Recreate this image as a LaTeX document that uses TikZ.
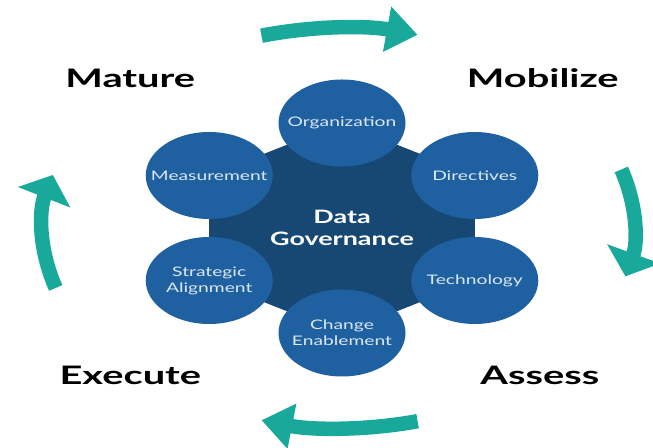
\documentclass[tikz,border=0pt]{standalone}
\usepackage{fontspec}
\setmainfont{Lato}
\usetikzlibrary{arrows.meta}
\definecolor{Navy}{HTML}{174873}
\definecolor{Blue}{HTML}{1E60A0}
\definecolor{Teal}{HTML}{19A99B}
\definecolor{Pale}{HTML}{DCE8F4}

\begin{document}
\begin{tikzpicture}[
  petal/.style={circle,fill=Blue,minimum size=1.74cm,inner sep=0pt,align=center,text=Pale,font=\fontsize{7.5}{9}\selectfont},
  stage/.style={xscale=1.07,font=\bfseries\fontsize{14.5}{17}\selectfont},
  sweep/.style={draw=Teal,line width=0.29cm},
  across/.style={sweep,-{Triangle[length=0.62cm,width=0.88cm]}},
  updown/.style={sweep,-{Triangle[length=0.48cm,width=1.1cm]}}
]
\useasboundingbox (0,0) rectangle (13.06,8.96);
\begin{scope}[shift={(6.84,4.40)},xscale=1.46,transform shape]
\fill[Navy] (90:2.1) -- (30:2.1) -- (-30:2.1) -- (-90:2.1) -- (-150:2.1) -- (150:2.1) -- cycle;
\node[petal] (org) at (90:2.1) {Organization};
\node[petal] (dir) at (30:2.1) {Directives};
\node[petal] (tech) at (-30:2.1) {Technology};
\node[petal] (change) at (-90:2.1) {Change\\Enablement};
\node[petal] (strat) at (-150:2.1) {Strategic\\Alignment};
\node[petal] (meas) at (150:2.1) {Measurement};
\node[text=white,align=center,font=\bfseries\fontsize{10.5}{12.5}\selectfont] (core) at (0,0) {Data\\Governance};
\node[stage] (mature) at (-2.90,3.00) {Mature};
\node[stage] (mobilize) at (2.75,3.00) {Mobilize};
\node[stage] (assess) at (2.71,-2.94) {Assess};
\node[stage] (execute) at (-2.90,-2.94) {Execute};
\coordinate (topTail) at (106:4.0);
\draw[across] (topTail) arc[start angle=106,end angle=75,radius=4.0];
\coordinate (rightTail) at (17:4.0);
\draw[updown] (rightTail) arc[start angle=17,end angle=-14,radius=4.0];
\coordinate (bottomTail) at (-75:4.0);
\draw[across] (bottomTail) arc[start angle=-75,end angle=-106,radius=4.0];
\coordinate (leftTail) at (197:4.1);
\draw[updown] (leftTail) arc[start angle=197,end angle=165,radius=4.1];
\end{scope}
\end{tikzpicture}
\end{document}
